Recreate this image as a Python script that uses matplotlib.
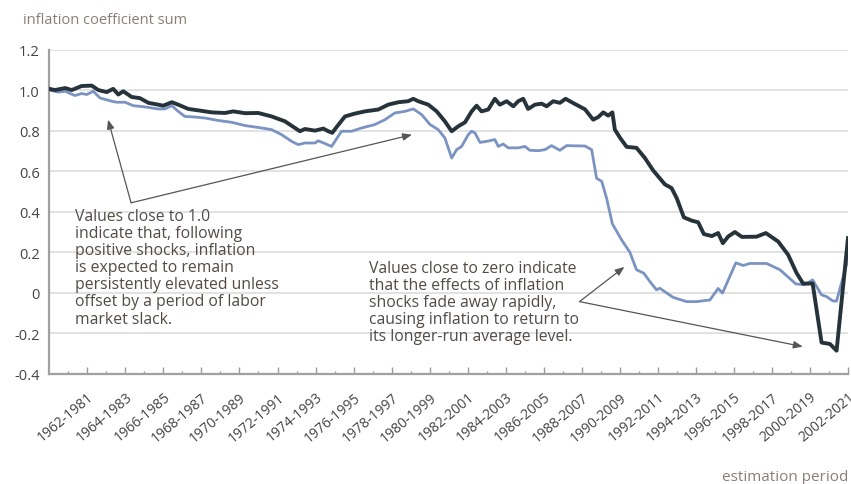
import matplotlib
matplotlib.use("Agg")
import matplotlib.pyplot as plt
from matplotlib.ticker import FixedLocator, NullFormatter

plt.rcParams['font.family'] = ['Open Sans', 'DejaVu Sans']

# ---- data (window start year, coefficient sum) ----
dark_x = [1960.00, 1960.30, 1960.83, 1961.18, 1961.70, 1962.23, 1962.58, 1963.02, 1963.36, 1963.63,
          1963.89, 1964.33, 1964.77, 1965.21, 1965.73, 1965.99, 1966.44, 1966.78, 1967.31, 1967.83,
          1968.54, 1969.24, 1969.67, 1970.29, 1970.99, 1971.69, 1972.39, 1972.92, 1973.18, 1973.44,
          1973.97, 1974.41, 1974.67, 1974.88, 1975.11, 1975.55, 1976.07, 1976.60, 1977.30, 1977.82,
          1978.35, 1978.87, 1979.14, 1979.40, 1979.93, 1980.37, 1980.80, 1981.16, 1981.50, 1981.86,
          1982.21, 1982.47, 1982.73, 1983.08, 1983.43, 1983.69, 1984.05, 1984.40, 1984.66, 1984.92,
          1985.18, 1985.54, 1985.89, 1986.15, 1986.50, 1986.85, 1987.15, 1987.47, 1987.81, 1988.17,
          1988.60, 1988.87, 1989.13, 1989.39, 1989.61, 1989.74, 1990.01, 1990.36, 1990.88, 1991.32,
          1991.76, 1992.37, 1992.72, 1992.99, 1993.37, 1993.79, 1994.12, 1994.42, 1994.84, 1995.17,
          1995.42, 1995.70, 1996.05, 1996.42, 1997.19, 1997.68, 1998.33, 1998.85, 1999.30, 1999.64,
          2000.14, 2000.61, 2001.05, 2001.40, 2002.00]
dark_y = [1.006, 1.000, 1.010, 1.000, 1.020, 1.022, 1.000, 0.990, 1.006, 0.978,
          0.994, 0.966, 0.960, 0.937, 0.928, 0.923, 0.940, 0.928, 0.907, 0.900,
          0.890, 0.887, 0.895, 0.886, 0.887, 0.870, 0.846, 0.813, 0.797, 0.808,
          0.800, 0.810, 0.797, 0.789, 0.818, 0.870, 0.884, 0.895, 0.904, 0.928,
          0.940, 0.945, 0.957, 0.945, 0.928, 0.895, 0.846, 0.797, 0.821, 0.841,
          0.895, 0.923, 0.895, 0.904, 0.957, 0.928, 0.945, 0.920, 0.945, 0.957,
          0.907, 0.928, 0.933, 0.920, 0.945, 0.937, 0.957, 0.940, 0.923, 0.905,
          0.854, 0.867, 0.890, 0.874, 0.890, 0.805, 0.765, 0.720, 0.715, 0.665,
          0.603, 0.535, 0.517, 0.468, 0.372, 0.356, 0.348, 0.290, 0.280, 0.295,
          0.245, 0.278, 0.300, 0.276, 0.277, 0.295, 0.253, 0.188, 0.097, 0.046,
          0.046, -0.245, -0.252, -0.285, 0.270]

light_x = [1960.00, 1960.47, 1960.83, 1961.35, 1961.70, 1961.97, 1962.31, 1962.67, 1963.28, 1963.54,
           1963.98, 1964.42, 1965.03, 1965.73, 1966.08, 1966.44, 1966.78, 1967.13, 1967.66, 1968.19,
           1968.89, 1969.59, 1970.29, 1971.17, 1971.69, 1972.22, 1972.74, 1973.09, 1973.44, 1973.97,
           1974.14, 1974.50, 1974.85, 1975.19, 1975.37, 1975.90, 1976.42, 1977.12, 1977.65, 1978.17,
           1978.70, 1979.14, 1979.58, 1980.02, 1980.45, 1980.80, 1981.16, 1981.42, 1981.68, 1982.03,
           1982.21, 1982.38, 1982.65, 1983.00, 1983.43, 1983.61, 1983.87, 1984.13, 1984.66, 1985.01,
           1985.27, 1985.71, 1986.06, 1986.41, 1986.85, 1987.20, 1988.17, 1988.52, 1988.78, 1989.05,
           1989.31, 1989.61, 1990.09, 1990.53, 1990.88, 1991.26, 1991.58, 1991.93, 1992.10, 1992.80,
           1993.51, 1994.04, 1994.74, 1995.17, 1995.40, 1996.10, 1996.49, 1996.84, 1997.72, 1998.42,
           1999.26, 1999.73, 2000.14, 2000.61, 2000.87, 2001.20, 2001.40, 2002.00]
light_y = [1.000, 0.990, 0.994, 0.973, 0.983, 0.978, 0.994, 0.961, 0.945, 0.940,
           0.940, 0.923, 0.917, 0.907, 0.907, 0.923, 0.895, 0.870, 0.867, 0.862,
           0.850, 0.841, 0.825, 0.813, 0.805, 0.780, 0.747, 0.731, 0.739, 0.739,
           0.750, 0.736, 0.722, 0.772, 0.797, 0.797, 0.813, 0.830, 0.854, 0.887,
           0.895, 0.907, 0.879, 0.830, 0.805, 0.764, 0.665, 0.706, 0.722, 0.780,
           0.797, 0.789, 0.742, 0.747, 0.756, 0.722, 0.734, 0.715, 0.715, 0.722,
           0.703, 0.701, 0.706, 0.726, 0.703, 0.726, 0.724, 0.706, 0.565, 0.550,
           0.465, 0.340, 0.262, 0.200, 0.114, 0.097, 0.056, 0.015, 0.023, -0.022,
           -0.043, -0.043, -0.035, 0.022, -0.001, 0.148, 0.135, 0.145, 0.145, 0.114,
           0.044, 0.040, 0.064, -0.010, -0.018, -0.040, -0.040, 0.165]

label_years = list(range(1962, 2003, 2))
tick_labels = [f"{y}-{y + 19}" for y in label_years]
minor_years = list(range(1961, 2002, 2))
y_ticks = [-0.4, -0.2, 0, 0.2, 0.4, 0.6, 0.8, 1.0, 1.2]
y_tick_labels = ["-0.4", "-0.2", "0", "0.2", "0.4", "0.6", "0.8", "1.0", "1.2"]

note_high = ("Values close to 1.0\nindicate that, following\npositive shocks, inflation\n"
             "is expected to remain\npersistently elevated unless\noffset by a period of labor\nmarket slack.")
note_low = ("Values close to zero indicate\nthat the effects of inflation\nshocks fade away rapidly,\n"
            "causing inflation to return to\nits longer-run average level.")

DARK = "#26333a"
LIGHT = "#7b93c2"
TEXT = "#524b46"
LABEL = "#8a7f78"

fig = plt.figure(figsize=(8.51, 4.85), dpi=100)
W, H = 851, 485
ax = fig.add_axes([49.3 / W, (H - 375) / H, (848 - 49.3) / W, (375 - 50.5) / H])

for yv in y_ticks[1:]:
    ax.axhline(yv, color="#e2e2e2", lw=1.4, zorder=0)

ax.plot(light_x, light_y, color=LIGHT, lw=2.0, zorder=3, solid_joinstyle="round")
ax.plot(dark_x, dark_y, color=DARK, lw=2.8, zorder=4, solid_joinstyle="round")

ax.set_xlim(1960, 2002)
ax.set_ylim(-0.4, 1.2)

ax.set_yticks(y_ticks)
ax.set_yticklabels(y_tick_labels)
ax.tick_params(axis="y", length=0, pad=7, labelsize=10.5, labelcolor="#444444")

ax.xaxis.set_major_locator(FixedLocator(label_years))
ax.xaxis.set_minor_locator(FixedLocator(minor_years))
ax.set_xticklabels(tick_labels, rotation=40, ha="right", va="top", rotation_mode="anchor")
ax.xaxis.set_minor_formatter(NullFormatter())
ax.tick_params(axis="x", which="major", direction="in", length=5, width=1, color="#999999",
               pad=11, labelsize=10, labelcolor="#444444")
ax.tick_params(axis="x", which="minor", direction="in", length=2.5, width=1, color="#999999")

for s in ["top", "right"]:
    ax.spines[s].set_visible(False)
for s in ["left", "bottom"]:
    ax.spines[s].set_color("#a0a0a0")
    ax.spines[s].set_linewidth(1.6)

fig.text(23 / W, 1 - 20 / H, "inflation coefficient sum", fontsize=10.5, color=LABEL,
         ha="left", va="center")
fig.text(848 / W, 1 - 478 / H, "estimation period", fontsize=11, color=LABEL,
         ha="right", va="center")

ax.text(1961.35, 0.418, note_high, fontsize=11.3, fontweight=500, color=TEXT, ha="left",
        va="top", linespacing=1.09, zorder=5)
ax.text(1976.81, 0.163, note_low, fontsize=11.3, fontweight=500, color=TEXT, ha="left",
        va="top", linespacing=1.09, zorder=5)

arrow_kw = dict(arrowstyle="-|>,head_length=0.55,head_width=0.22", color="#555555", lw=0.9,
                shrinkA=0, shrinkB=0)
ax.annotate("", xy=(1963.09, 0.854), xytext=(1964.30, 0.444), arrowprops=arrow_kw, zorder=5)
ax.annotate("", xy=(1979.07, 0.780), xytext=(1964.30, 0.444), arrowprops=arrow_kw, zorder=5)
ax.annotate("", xy=(1990.24, 0.128), xytext=(1987.88, -0.043), arrowprops=arrow_kw, zorder=5)
ax.annotate("", xy=(1999.62, -0.265), xytext=(1987.88, -0.043), arrowprops=arrow_kw, zorder=5)

fig.savefig("out.png", dpi=100)
